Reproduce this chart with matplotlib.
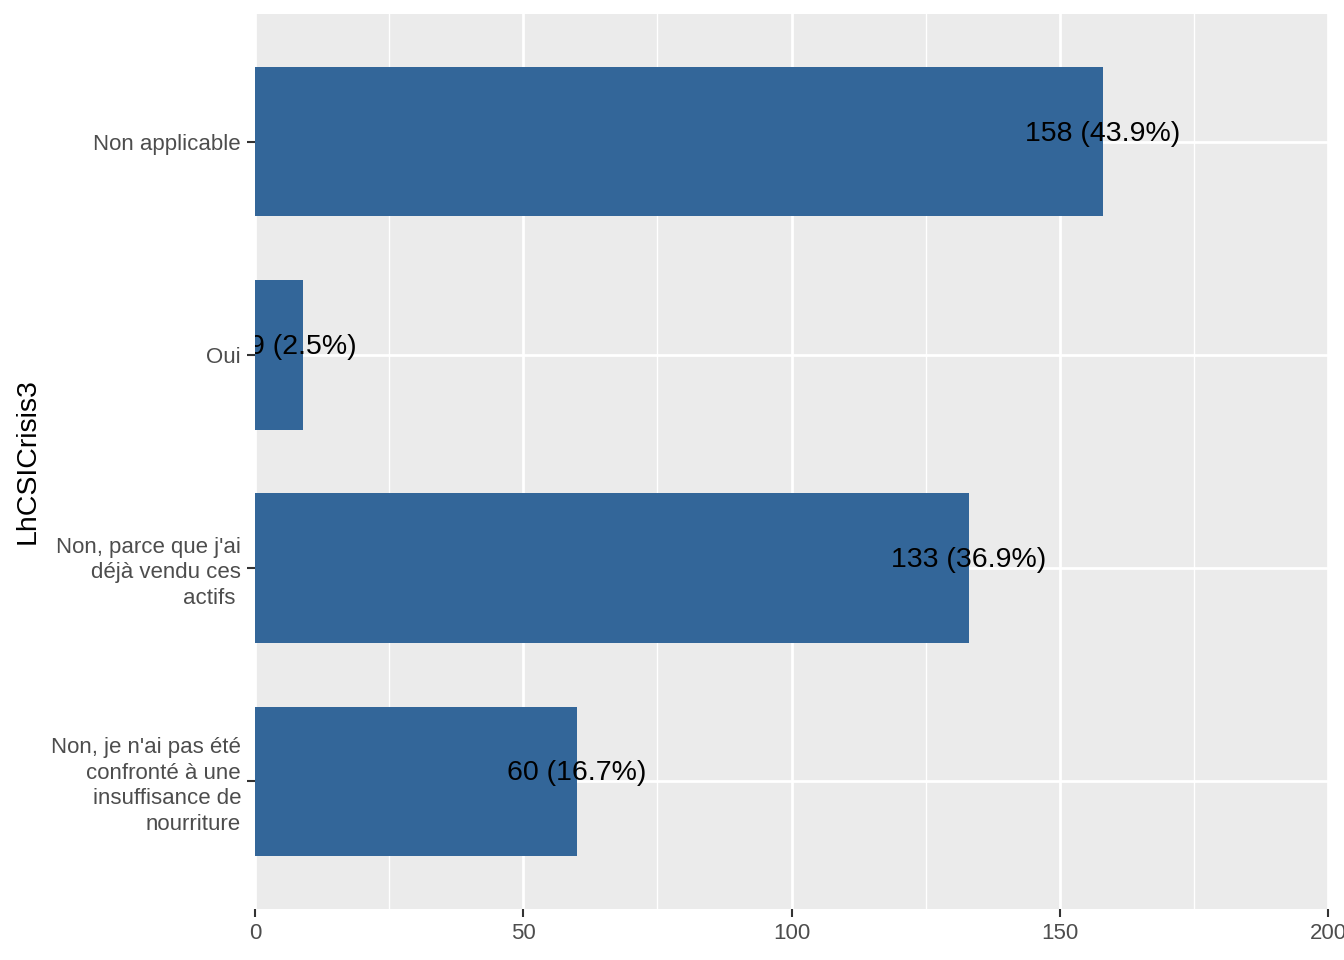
import matplotlib
matplotlib.use("Agg")
import matplotlib.pyplot as plt
from matplotlib.ticker import MultipleLocator

plt.rcParams['font.family'] = ['Liberation Sans', 'DejaVu Sans']

categories = ["Non applicable",
              "Oui",
              "Non, parce que j'ai\ndéjà vendu ces\nactifs ",
              "Non, je n'ai pas été\nconfronté à une\ninsuffisance de\nnourriture"]
counts = [158, 9, 133, 60]
x_ticks = [0, 50, 100, 150, 200]
y_title = "LhCSICrisis3"

total = sum(counts)
labels = [f"{c} ({c / total * 100:.1f}%)" for c in counts]

fig = plt.figure(figsize=(13.44, 9.6), dpi=100)
ax = fig.add_axes([255 / 1344, 51 / 960, 1073 / 1344, 895 / 960])
ax.set_facecolor('#EBEBEB')

ypos = list(range(len(categories)))[::-1]
ax.barh(ypos, counts, height=0.7, color='#336699', zorder=2)

for y, c, lbl in zip(ypos, counts, labels):
    ax.annotate(lbl, (c, y), xytext=(0, 6), textcoords='offset points',
                ha='center', va='center', fontsize=20.5, color='black',
                zorder=3, annotation_clip=False, clip_on=True)

ax.set_xlim(0, 200)
ax.set_ylim(-0.6, len(categories) - 0.4)
ax.set_xticks(x_ticks)
ax.xaxis.set_minor_locator(MultipleLocator(25))
ax.set_yticks(ypos)
ax.set_yticklabels(categories, linespacing=1.28)

ax.grid(which='major', color='white', linewidth=2.0, zorder=1)
ax.grid(which='minor', axis='x', color='white', linewidth=1.0, zorder=1)
ax.set_axisbelow(True)
for s in ax.spines.values():
    s.set_visible(False)

ax.tick_params(axis='both', which='major', length=6, width=1.5, color='#333333',
               labelcolor='#4D4D4D', labelsize=16, pad=4)
ax.tick_params(axis='x', which='minor', length=0)
ax.set_ylabel(y_title, fontsize=20.5, color='black', labelpad=7.5)

fig.savefig('out.png', dpi=100)
